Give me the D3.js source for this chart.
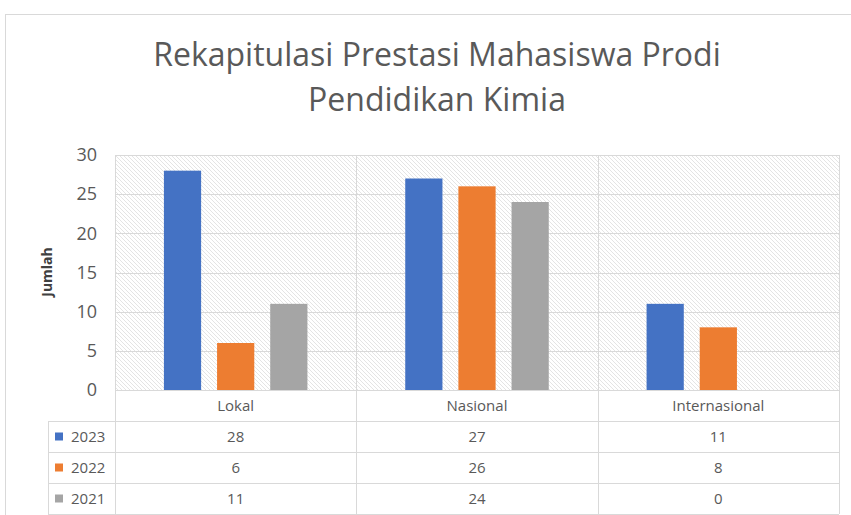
<!DOCTYPE html>
<html>
<head>
<meta charset="utf-8">
<script src="https://cdn.jsdelivr.net/npm/d3@7"></script>
<style>
  body { margin: 0; background: #fff; }
  svg { display: block; font-family: 'Open Sans', sans-serif; }
</style>
</head>
<body>
<svg id="chart" width="851" height="515"></svg>
<script>
// Rekapitulasi Prestasi - clustered bars with data table underneath

const categories = ['Lokal', 'Nasional', 'Internasional'];
const seriesNames = ['2023', '2022', '2021'];
const values2023 = [28, 27, 11];
const values2022 = [6, 26, 8];
const values2021 = [11, 24, 0];
const yTicks = [0, 5, 10, 15, 20, 25, 30];
const seriesColors = ['#4472C4', '#ED7D31', '#A5A5A5'];

const series = [
  { name: seriesNames[0], color: seriesColors[0], values: values2023 },
  { name: seriesNames[1], color: seriesColors[1], values: values2022 },
  { name: seriesNames[2], color: seriesColors[2], values: values2021 }
];

const svg = d3.select('#chart');
const gridColor = '#d9d9d9';
const textColor = '#595959';

const plot = { left: 115, right: 839, top: 155, bottom: 390 };
const tableLeft = 48;
const tableBottom = 514;

// outer chart frame
svg.append('rect')
  .attr('x', 5.5)
  .attr('y', 14.5)
  .attr('width', 900)
  .attr('height', 600)
  .style('fill', '#fff')
  .style('stroke', gridColor)
  .style('stroke-width', 1);

// hatch pattern for plot background
const defs = svg.append('defs');
const pattern = defs.append('pattern')
  .attr('id', 'hatch')
  .attr('patternUnits', 'userSpaceOnUse')
  .attr('width', 4)
  .attr('height', 4);
pattern.append('rect').attr('width', 4).attr('height', 4).style('fill', '#fff');
pattern.append('path')
  .attr('d', 'M-1,-1 L5,5 M-1,3 L1,5 M3,-1 L5,1')
  .style('stroke', '#e4e4e4')
  .style('stroke-width', 1);

// title
const title = svg.append('text')
  .attr('x', 437)
  .attr('text-anchor', 'middle')
  .style('font-size', '32px')
  .style('fill', textColor);
title.append('tspan').attr('x', 437).attr('y', 66).text('Rekapitulasi Prestasi Mahasiswa Prodi');
title.append('tspan').attr('x', 437).attr('y', 111).text('Pendidikan Kimia');

// scales
const x0 = d3.scaleBand()
  .domain(categories)
  .range([plot.left, plot.right])
  .padding(0);

const x1 = d3.scaleBand()
  .domain(seriesNames)
  .range([0, x0.bandwidth()])
  .paddingInner(0.3)
  .paddingOuter(0.92);

const y = d3.scaleLinear()
  .domain([0, 30])
  .range([plot.bottom, plot.top]);

// plot background
svg.append('rect')
  .attr('x', plot.left)
  .attr('y', plot.top)
  .attr('width', plot.right - plot.left)
  .attr('height', plot.bottom - plot.top)
  .style('fill', 'url(#hatch)');

// horizontal grid lines
svg.append('g')
  .selectAll('line')
  .data(yTicks)
  .join('line')
  .attr('x1', plot.left)
  .attr('x2', plot.right)
  .attr('y1', d => Math.round(y(d)) + 0.5)
  .attr('y2', d => Math.round(y(d)) + 0.5)
  .style('stroke', gridColor)
  .style('stroke-width', 1);

// y axis labels
const yAxis = d3.axisLeft(y)
  .tickValues(yTicks)
  .tickSize(0)
  .tickPadding(0);

svg.append('g')
  .attr('transform', 'translate(97,0)')
  .call(yAxis)
  .call(g => g.select('.domain').remove())
  .selectAll('text')
  .style('font-family', "'Open Sans', sans-serif")
  .style('font-size', '18px')
  .style('fill', textColor);

// y axis title
svg.append('text')
  .attr('transform', 'translate(52,272) rotate(-90)')
  .attr('text-anchor', 'middle')
  .style('font-size', '14px')
  .style('font-weight', 'bold')
  .style('fill', '#404040')
  .text('Jumlah');

// bars
const groups = svg.append('g')
  .selectAll('g')
  .data(categories)
  .join('g')
  .attr('transform', d => `translate(${x0(d)},0)`);

groups.selectAll('rect')
  .data((d, i) => series.map(s => ({ name: s.name, color: s.color, value: s.values[i] })))
  .join('rect')
  .attr('x', d => x1(d.name))
  .attr('y', d => y(d.value))
  .attr('width', x1.bandwidth())
  .attr('height', d => y(0) - y(d.value))
  .style('fill', d => d.color);

// data table
const rows = d3.scaleBand()
  .domain(['category', ...seriesNames])
  .range([plot.bottom, tableBottom]);

const table = svg.append('g');

// table horizontal lines
table.selectAll('.row-line')
  .data(seriesNames.concat(['end']))
  .join('line')
  .attr('class', 'row-line')
  .attr('x1', tableLeft)
  .attr('x2', plot.right)
  .attr('y1', d => Math.round(d === 'end' ? tableBottom : rows(d)) + 0.5)
  .attr('y2', d => Math.round(d === 'end' ? tableBottom : rows(d)) + 0.5)
  .style('stroke', gridColor);

// vertical lines (category boundaries)
const boundaries = categories.map(c => x0(c)).concat([plot.right]);
table.selectAll('.col-line')
  .data(boundaries)
  .join('line')
  .attr('class', 'col-line')
  .attr('x1', d => Math.round(d) + 0.5)
  .attr('x2', d => Math.round(d) + 0.5)
  .attr('y1', plot.top)
  .attr('y2', tableBottom)
  .style('stroke', gridColor);

table.append('line')
  .attr('x1', tableLeft + 0.5)
  .attr('x2', tableLeft + 0.5)
  .attr('y1', rows(seriesNames[0]))
  .attr('y2', tableBottom)
  .style('stroke', gridColor);

// category labels
table.selectAll('.cat-label')
  .data(categories)
  .join('text')
  .attr('class', 'cat-label')
  .attr('x', d => x0(d) + x0.bandwidth() / 2)
  .attr('y', rows('category') + rows.bandwidth() / 2)
  .attr('dy', '0.35em')
  .attr('text-anchor', 'middle')
  .style('font-size', '15px')
  .style('fill', textColor)
  .text(d => d);

// series rows: legend key + values
const rowGroups = table.selectAll('.row')
  .data(series)
  .join('g')
  .attr('class', 'row')
  .attr('transform', d => `translate(0,${rows(d.name) + rows.bandwidth() / 2})`);

rowGroups.append('rect')
  .attr('x', 55)
  .attr('y', -4)
  .attr('width', 8)
  .attr('height', 8)
  .style('fill', d => d.color);

rowGroups.append('text')
  .attr('x', 71)
  .attr('dy', '0.35em')
  .style('font-size', '15px')
  .style('fill', textColor)
  .text(d => d.name);

rowGroups.selectAll('.val')
  .data(d => d.values)
  .join('text')
  .attr('class', 'val')
  .attr('x', (d, i) => x0(categories[i]) + x0.bandwidth() / 2)
  .attr('dy', '0.35em')
  .attr('text-anchor', 'middle')
  .style('font-size', '15px')
  .style('fill', textColor)
  .text(d => d);
</script>
</body>
</html>
